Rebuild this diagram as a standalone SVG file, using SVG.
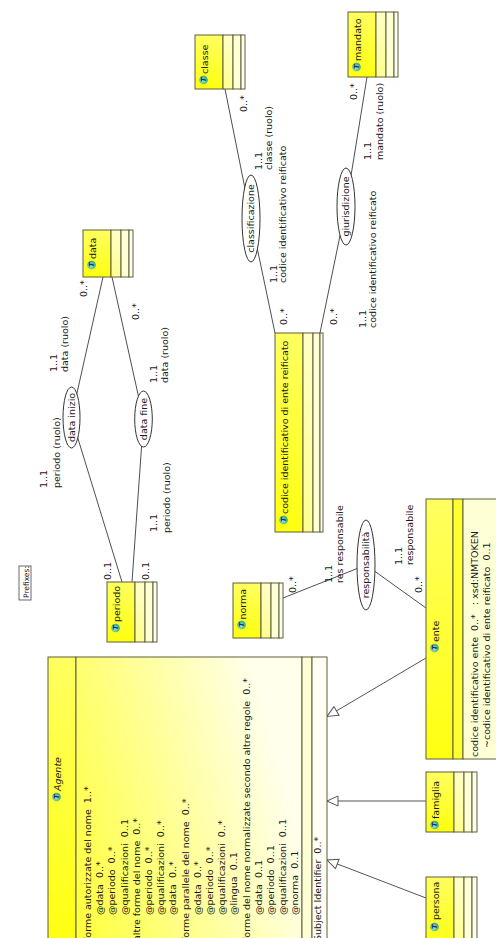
<svg xmlns="http://www.w3.org/2000/svg" width="496" height="938" viewBox="0 0 496 938" xml:space="preserve">
<defs>
<linearGradient id="gh" x1="0" y1="0" x2="1" y2="0"><stop offset="0" stop-color="#ffff10"/><stop offset="1" stop-color="#ffff60"/></linearGradient>
<linearGradient id="g1" x1="0" y1="0" x2="1" y2="0"><stop offset="0" stop-color="#ffff90"/><stop offset="1" stop-color="#ffffc8"/></linearGradient>
<linearGradient id="gbody" x1="0" y1="0" x2="0.35" y2="1"><stop offset="0" stop-color="#ffff38"/><stop offset="1" stop-color="#ffffec"/></linearGradient>
<radialGradient id="gi" cx="0.4" cy="0.4" r="0.6"><stop offset="0" stop-color="#a8ecd0"/><stop offset="1" stop-color="#30a878"/></radialGradient>
<marker id="tri" markerUnits="userSpaceOnUse" markerWidth="14" markerHeight="12" refX="12" refY="6" orient="auto" viewBox="0 0 14 12">
<path d="M1,1 L12,6 L1,11 z" fill="#fff" stroke="#555" stroke-width="1"/>
</marker>
</defs>
<style>
text{font-family:"DejaVu Sans","Liberation Sans",sans-serif;font-size:9.5px;fill:#1a1a1a;white-space:pre}
.b{stroke:#5e5e3a;stroke-width:1}
.h{fill:url(#gh)}
.c1{fill:url(#g1)}
.c2{fill:#ffffd6}
.c3{fill:#fffff4}
.ye{fill:#ffff30}
.ell{fill:#fff;stroke:#333;stroke-width:1}
.ln{fill:none;stroke:#3a3a3a;stroke-width:0.9}
.gen{fill:none;stroke:#555;stroke-width:1;marker-end:url(#tri)}
.it{font-style:italic}
.ic{fill:url(#gi)}
.T{font-size:7px;font-weight:bold;font-style:italic;fill:#1b2a78}
.m{text-anchor:middle}
</style>
<rect x="0" y="0" width="496" height="938" fill="#fff"/>
<g transform="translate(0,938) rotate(-90)">

<g id="connectors">
<polyline class="ln" points="661,103 520.5,71.5 356,122"/>
<polyline class="ln" points="661,112 519,143.5 356,132"/>
<polyline class="ln" points="849,225 719.5,251 605,275"/>
<polyline class="ln" points="861,367 731.5,346 605,320"/>
<polyline class="ln" points="340,283 373,366 330,426"/>
<line class="gen" x1="280" y1="426" x2="221.5" y2="327"/>
<line class="gen" x1="137" y1="426" x2="137" y2="327"/>
<line class="gen" x1="40" y1="426" x2="78" y2="327"/>
<text x="641" y="86.5">0..*</text>
<text x="566" y="56.5">1..1</text>
<text x="566" y="68">data (ruolo)</text>
<text x="618" y="138.5">0..*</text>
<text x="555" y="156.5">1..1</text>
<text x="555" y="168">data (ruolo)</text>
<text x="450" y="46.5">1..1</text>
<text x="450" y="60">periodo (ruolo)</text>
<text x="358" y="110.5">0..1</text>
<text x="358" y="148.5">0..1</text>
<text x="406" y="156.5">1..1</text>
<text x="405" y="170">periodo (ruolo)</text>
<text x="826" y="246.5">0..*</text>
<text x="768" y="261.5">1..1</text>
<text x="768" y="272">classe (ruolo)</text>
<text x="655" y="276.5">1..1</text>
<text x="655" y="286">codice identificativo reificato</text>
<text x="613" y="286.5">0..*</text>
<text x="838" y="356.5">0..*</text>
<text x="778" y="370.5">1..1</text>
<text x="778" y="383">mandato (ruolo)</text>
<text x="613" y="336.5">0..*</text>
<text x="610" y="365.5">1..1</text>
<text x="610" y="376">codice identificativo reificato</text>
<text x="345" y="295.5">0..*</text>
<text x="355" y="331.5">1..1</text>
<text x="355" y="343">res responsabile</text>
<text x="373" y="401.5">1..1</text>
<text x="373" y="413">responsabile</text>
<text x="345" y="421.5">0..*</text>
</g>

<g id="prefixes">
<rect x="338" y="19" width="34" height="12" fill="#fff" stroke="#444" stroke-width="0.8"/>
<text x="340" y="28.5" style="font-size:7.5px">Prefixes:</text>
</g>

<g id="data_inizio"><ellipse class="ell" cx="520.5" cy="71.5" rx="30.5" ry="8.5"/><text class="m" x="520.5" y="74.8">data inizio</text></g>
<g id="data_fine"><ellipse class="ell" cx="519" cy="143.5" rx="28" ry="8.8"/><text class="m" x="519" y="146.8">data fine</text></g>
<g id="classificazione"><ellipse class="ell" cx="719.5" cy="251" rx="43.5" ry="9"/><text class="m" x="719.5" y="254.3">classificazione</text></g>
<g id="giurisdizione"><ellipse class="ell" cx="731.5" cy="346" rx="38.5" ry="9"/><text class="m" x="731.5" y="349.3">giurisdizione</text></g>
<g id="responsabilita"><ellipse class="ell" cx="373" cy="366" rx="45" ry="9"/><text class="m" x="373" y="369.3">responsabilità</text></g>

<g id="Agente">
<rect class="b h" x="-10" y="48" width="291" height="28"/>
<rect class="b" fill="url(#gbody)" x="-10" y="76" width="291" height="226"/>
<rect class="b c2" x="-10" y="302" width="291" height="10"/>
<rect class="b c3" x="-10" y="312" width="291" height="15"/>
<circle class="ic" cx="141" cy="56.5" r="4.3"/><text class="T" x="139" y="59">T</text>
<text class="it" x="147" y="60.5">Agente</text>
<text x="-3" y="91">forme autorizzate del nome  1..*</text>
<text x="23" y="103.2">@data  0..*</text>
<text x="23" y="115.4">@periodo  0..*</text>
<text x="23" y="127.6">@qualificazioni  0..1</text>
<text x="-3" y="139.8">altre forme del nome  0..*</text>
<text x="23" y="152">@periodo  0..*</text>
<text x="23" y="164.2">@qualificazioni  0..*</text>
<text x="23" y="176.4">@data  0..*</text>
<text x="-3" y="188.6">forme parallele del nome  0..*</text>
<text x="23" y="200.8">@data  0..*</text>
<text x="23" y="213">@periodo  0..*</text>
<text x="23" y="225.2">@qualificazioni  0..*</text>
<text x="23" y="237.4">@lingua  0..1</text>
<text x="-3" y="249.6">forme del nome normalizzate secondo altre regole  0..*</text>
<text x="23" y="261.8">@data  0..1</text>
<text x="23" y="274">@periodo  0..1</text>
<text x="23" y="286.2">@qualificazioni  0..1</text>
<text x="23" y="298.4">@norma  0..1</text>
<text x="-3" y="321">Subject Identifier  0..*</text>
</g>

<g id="periodo">
<rect class="b h" x="296" y="107" width="60" height="28"/>
<rect class="b c1" x="296" y="135" width="60" height="10"/>
<rect class="b c2" x="296" y="145" width="60" height="8"/>
<rect class="b c3" x="296" y="153" width="60" height="4"/>
<circle class="ic" cx="310" cy="115.5" r="4.3"/><text class="T" x="308" y="118">T</text>
<text x="316" y="119.5">periodo</text>
</g>

<g id="norma">
<rect class="b h" x="300" y="233" width="55" height="28"/>
<rect class="b c1" x="300" y="261" width="55" height="10"/>
<rect class="b c2" x="300" y="271" width="55" height="8"/>
<rect class="b c3" x="300" y="279" width="55" height="4"/>
<circle class="ic" cx="313" cy="241.5" r="4.3"/><text class="T" x="311" y="244">T</text>
<text x="318.5" y="245.5">norma</text>
</g>

<g id="data">
<rect class="b h" x="661" y="83" width="47" height="28"/>
<rect class="b c1" x="661" y="111" width="47" height="10"/>
<rect class="b c2" x="661" y="121" width="47" height="8"/>
<rect class="b c3" x="661" y="129" width="47" height="4"/>
<circle class="ic" cx="673" cy="91.5" r="4.3"/><text class="T" x="671" y="94">T</text>
<text x="679" y="95.5">data</text>
</g>

<g id="classe">
<rect class="b h" x="849" y="195" width="54" height="28"/>
<rect class="b c1" x="849" y="223" width="54" height="10"/>
<rect class="b c2" x="849" y="233" width="54" height="8"/>
<rect class="b c3" x="849" y="241" width="54" height="4"/>
<circle class="ic" cx="858" cy="203.5" r="4.3"/><text class="T" x="856" y="206">T</text>
<text x="864" y="207.5">classe</text>
</g>

<g id="mandato">
<rect class="b h" x="861" y="348" width="65" height="28"/>
<rect class="b c1" x="861" y="376" width="65" height="10"/>
<rect class="b c2" x="861" y="386" width="65" height="8"/>
<rect class="b c3" x="861" y="394" width="65" height="4"/>
<circle class="ic" cx="871" cy="356.5" r="4.3"/><text class="T" x="869" y="359">T</text>
<text x="877" y="360.5">mandato</text>
</g>

<g id="codice_identificativo_di_ente_reificato">
<rect class="b h" x="406" y="275" width="199" height="28"/>
<rect class="b c1" x="406" y="303" width="199" height="10"/>
<rect class="b c2" x="406" y="313" width="199" height="7"/>
<rect class="b c3" x="406" y="320" width="199" height="3"/>
<circle class="ic" cx="418" cy="283.5" r="4.3"/><text class="T" x="416" y="286">T</text>
<text x="424" y="287.5">codice identificativo di ente reificato</text>
</g>

<g id="famiglia">
<rect class="b h" x="106" y="426" width="60" height="28"/>
<rect class="b c1" x="106" y="454" width="60" height="10"/>
<rect class="b c2" x="106" y="464" width="60" height="8"/>
<rect class="b c3" x="106" y="472" width="60" height="5"/>
<circle class="ic" cx="113" cy="434.5" r="4.3"/><text class="T" x="111" y="437">T</text>
<text x="119" y="438.5">famiglia</text>
</g>

<g id="persona">
<rect class="b h" x="-10" y="426" width="71" height="28"/>
<rect class="b c1" x="-10" y="454" width="71" height="10"/>
<rect class="b c2" x="-10" y="464" width="71" height="8"/>
<rect class="b c3" x="-10" y="472" width="71" height="5"/>
<circle class="ic" cx="11" cy="434.5" r="4.3"/><text class="T" x="9" y="437">T</text>
<text x="18" y="438.5">persona</text>
</g>

<g id="ente">
<rect class="b h" x="179" y="426" width="260" height="27"/>
<rect class="b ye" x="179" y="453" width="260" height="10"/>
<rect class="b c2" x="179" y="463" width="260" height="40"/>
<circle class="ic" cx="290" cy="434.5" r="4.3"/><text class="T" x="288" y="437">T</text>
<text x="296" y="438.5">ente</text>
<text x="181" y="478">codice identificativo ente  0..*   : xsd:NMTOKEN</text>
<text x="190" y="490">~codice identificativo di ente reificato  0..1</text>
</g>

</g>
</svg>
